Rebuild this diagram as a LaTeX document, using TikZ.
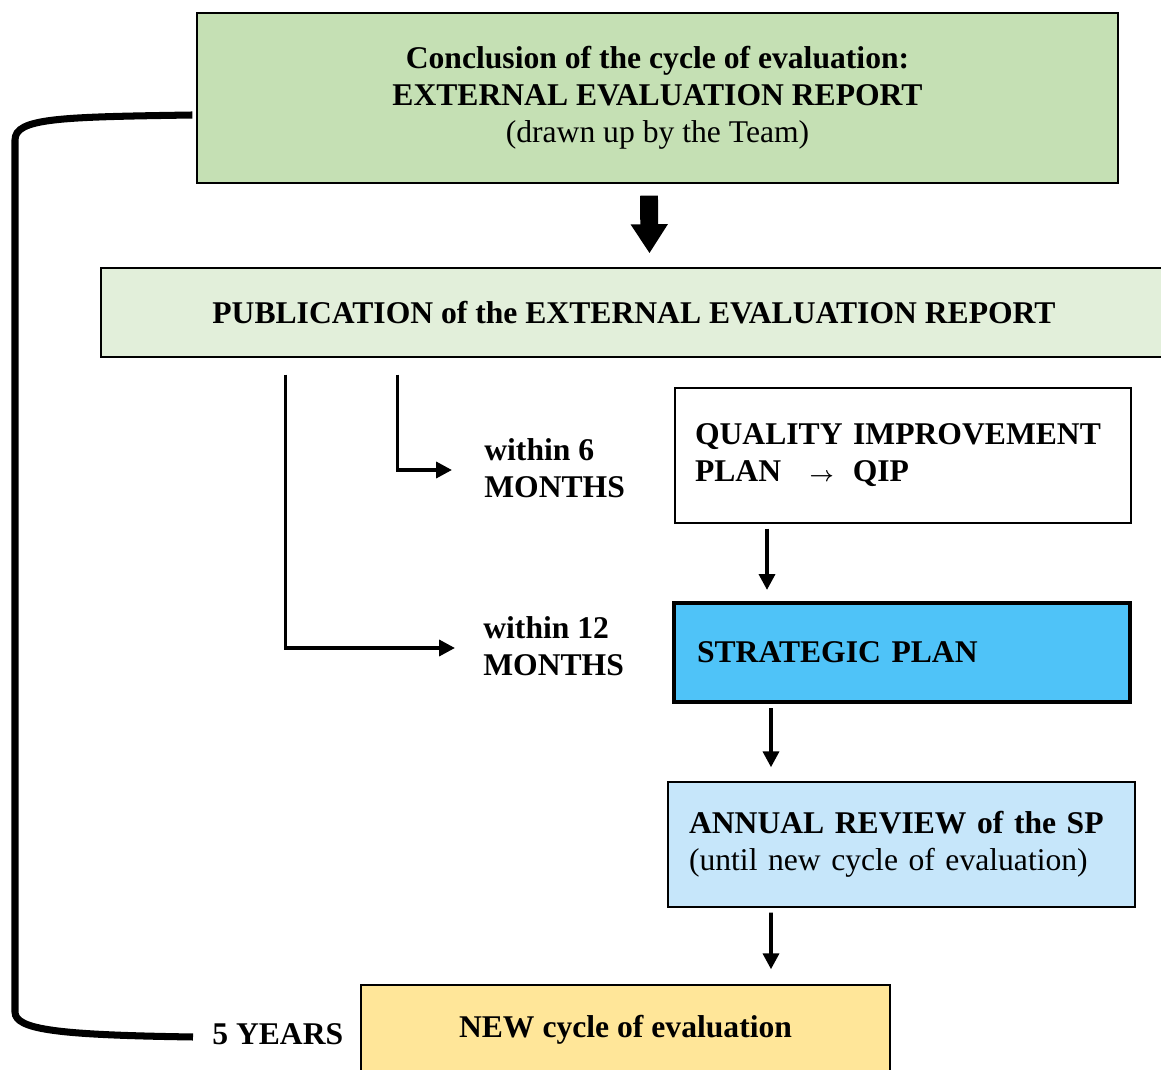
\documentclass[tikz,border=0pt]{standalone}
\usepackage{fontspec}
\setmainfont{Liberation Serif}
\usepackage{tikz}
\usetikzlibrary{calc,positioning,arrows.meta}
\definecolor{conclg}{HTML}{C5E0B4}
\definecolor{pubg}{HTML}{E2EFDA}
\definecolor{spblue}{HTML}{4FC3F8}
\definecolor{annblue}{HTML}{C6E6FA}
\definecolor{newy}{HTML}{FFE699}
\newcommand{\bigfont}{\fontsize{18}{21}\selectfont}
\tikzset{
  box/.style={draw, line width=0.8pt, inner sep=0pt, align=center, font=\bigfont\bfseries},
  lbl/.style={inner sep=0pt, align=left, font=\bigfont\bfseries, anchor=west},
  arr/.style={-{Triangle[length=9pt,width=9pt]}, line width=2.1pt},
  bigarr/.style={-{Triangle[length=16.5pt,width=20pt]}, line width=10.2pt},
}
\begin{document}
\begin{tikzpicture}[x=0.02cm, y=-0.02cm]
			\useasboundingbox (0,0) rectangle (1161,1070);
			\node[box, fill=conclg, minimum width=18.42cm, minimum height=3.4cm] (concl) at (657.5,98)
			  {Conclusion of the cycle of evaluation:\\EXTERNAL EVALUATION REPORT\\\mdseries(drawn up by the Team)};
			\node[box, fill=pubg, minimum width=21.32cm, minimum height=1.78cm] (pub) at (634,312.5)
			  {PUBLICATION of the EXTERNAL EVALUATION REPORT};
			\node[box, fill=white, align=left, text width=8.32cm, minimum width=9.12cm, minimum height=2.7cm] (qip) at (903,455.5)
			  {QUALITY IMPROVEMENT\\PLAN\hspace{0.9em}{\boldmath$\scriptstyle\rightarrow$}\hspace{0.6em}QIP};
			\node[box, fill=spblue, line width=2.3pt, align=left, text width=8.2cm, minimum width=9.12cm, minimum height=1.98cm] (sp) at (902,652.5)
			  {STRATEGIC PLAN};
			\node[box, fill=annblue, align=left, text width=8.5cm, minimum width=9.34cm, minimum height=2.5cm] (ann) at (901.5,844.5)
			  {ANNUAL REVIEW of the SP\\\mdseries(until new cycle of evaluation)};
			\node[box, fill=newy, minimum width=10.58cm, minimum height=1.8cm] (new) at (625.5,1030)
			  {NEW cycle of evaluation};
			\node[lbl] (m6) at (484,468) {within 6\\MONTHS};
			\node[lbl] (m12) at (483,646) {within 12\\MONTHS};
			\node[lbl] (yrs) at (212,1034) {5 YEARS};
			% connectors
			\draw[bigarr] ($(concl.south)+(-8.5,12)$) -- ($(pub.north)+(15.5,-14)$);
			\draw[arr] ($(pub.south west)+(297,17)$) |- ($(m6.west)+(-32,2)$);
			\draw[arr] ($(pub.south west)+(185,17)$) |- ($(m12.west)+(-28,2)$);
			\draw[arr] ($(qip.south)+(-136,5)$) -- ($(sp.north)+(-135,-11)$);
			\draw[arr] ($(sp.south)+(-131,4)$) -- ($(ann.north)+(-130.5,-14)$);
			\draw[arr] ($(ann.south)+(-130.5,5)$) -- ($(new.north)+(145.5,-15)$);
			\draw[line width=4pt] ($(concl.west)+(-4,17)$) .. controls (60,117) and (15,118) .. (15,140)
			  -- (15,1012) .. controls (15,1030) and (60,1035) .. ($(yrs.west)+(-19,3)$);
		\end{tikzpicture}
\end{document}
